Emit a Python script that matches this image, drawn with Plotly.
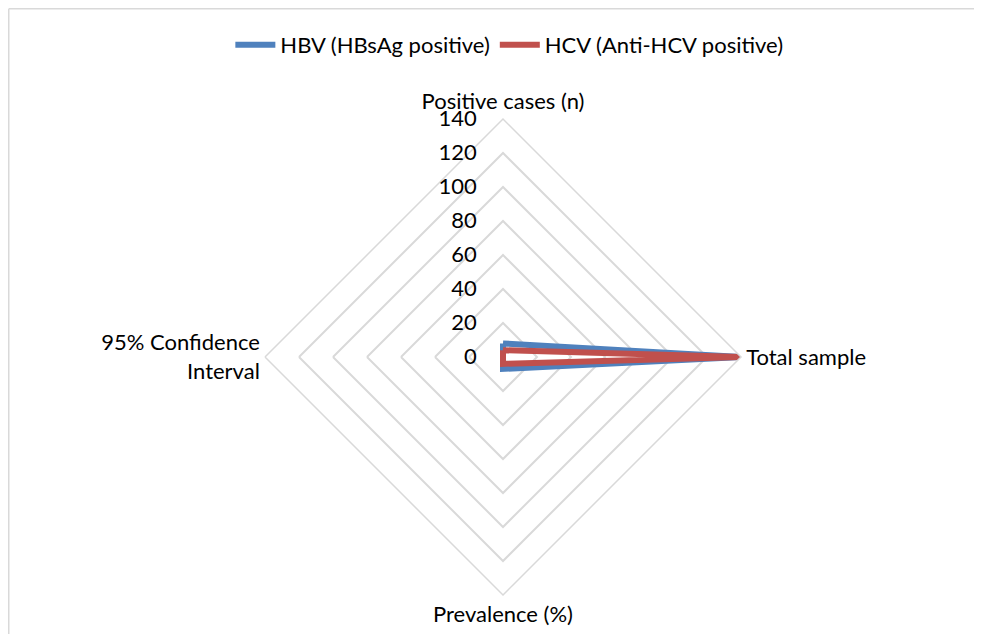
# Radar chart: HBV / HCV screening results
import plotly.graph_objects as go

categories = ["Positive cases (n)", "Total sample", "Prevalence (%)", "95% Confidence<br>Interval"]
hbv_values = [8, 140, 7, 0]
hcv_values = [4, 140, 4, 0]
radial_ticks = [0, 20, 40, 60, 80, 100, 120, 140]

# page body has an 8px margin, so the figure is a bit smaller than the window
W, H = 966, 626
cx, cy, r = 495, 349, 238

fig = go.Figure()

# close the polygons
theta = categories + categories[:1]

fig.add_trace(go.Scatterpolar(
	r=hbv_values + hbv_values[:1],
	theta=theta,
	mode="lines",
	name="HBV (HBsAg positive)",
	line=dict(color="#4F81BD", width=6),
))
fig.add_trace(go.Scatterpolar(
	r=hcv_values + hcv_values[:1],
	theta=theta,
	mode="lines",
	name="HCV (Anti-HCV positive)",
	line=dict(color="#C0504D", width=6),
))

fig.update_layout(
	width=W,
	height=H,
	margin=dict(l=0, r=0, t=0, b=0),
	paper_bgcolor="white",
	font=dict(family="Lato, Noto Sans, sans-serif", size=22, color="#000000"),
	showlegend=True,
	legend=dict(
		orientation="h",
		x=0.519, xanchor="center",
		y=1 - 37 / H, yanchor="middle",
		font=dict(size=22),
		itemwidth=40,
	),
	polar=dict(
		domain=dict(x=[(cx - r) / W, (cx + r) / W], y=[(H - cy - r) / H, (H - cy + r) / H]),
		gridshape="linear",
		bgcolor="white",
		angularaxis=dict(
			direction="clockwise",
			rotation=90,
			showgrid=False,
			showline=True,
			linecolor="#D9D9D9",
			linewidth=1.5,
			ticks="",
			tickfont=dict(size=22),
		),
		radialaxis=dict(
			range=[0, 140],
			tickvals=radial_ticks,
			angle=90,
			tickangle=90,
			side="counterclockwise",
			showline=False,
			ticks="outside",
			ticklen=18,
			tickcolor="rgba(0,0,0,0)",
			gridcolor="#D9D9D9",
			gridwidth=1.5,
			tickfont=dict(size=22),
		),
	),
	shapes=[
		dict(type="line", xref="paper", yref="paper", x0=0.75 / W, x1=1, y0=1 - 0.75 / H, y1=1 - 0.75 / H,
			line=dict(color="#D9D9D9", width=1.5)),
		dict(type="line", xref="paper", yref="paper", x0=0.75 / W, x1=0.75 / W, y0=0, y1=1 - 0.75 / H,
			line=dict(color="#D9D9D9", width=1.5)),
	],
)

fig.write_html("out.html")
